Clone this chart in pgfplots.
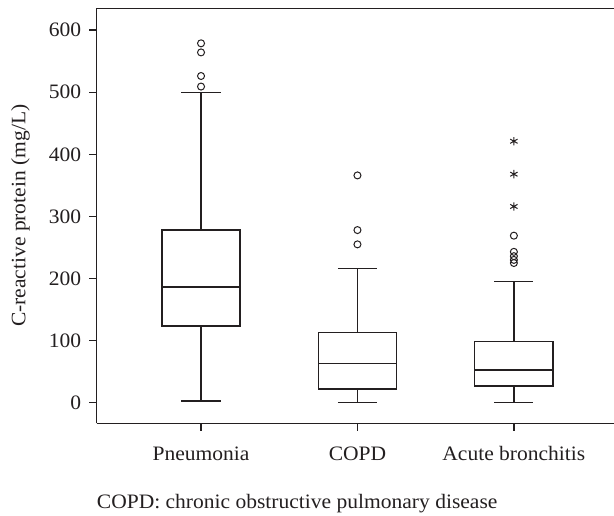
\documentclass[border=0pt]{standalone}
\usepackage{fontspec}
\setmainfont{Liberation Serif}[FakeStretch=1.05]
\usepackage{pgfplots}
\usepgfplotslibrary{statistics}
\pgfplotsset{compat=1.18}
\definecolor{ln}{HTML}{231F20}
\begin{document}
\begin{tikzpicture}
\begin{axis}[
  scale only axis,
  width=517.3pt, height=415pt,
  xmin=0.333, xmax=3.64,
  ymin=-33, ymax=635,
  axis x line*=box, axis y line*=left,
  axis line style={-, line width=1.5pt, draw=ln},
  xtick pos=left, ytick pos=left,
  tick align=outside,
  major tick length=7.5pt,
  tick style={line width=1.3pt, draw=ln},
  xtick={1,2,3},
  xticklabels={Pneumonia,COPD,Acute bronchitis},
  ytick={0,100,200,300,400,500,600},
  /pgf/number format/assume math mode=true,
  ticklabel style={font=\fontsize{20.5}{24}\selectfont, text=ln},
  yticklabel style={xshift=-4.6pt},
  xticklabel style={anchor=base, yshift=-29.7pt},
  ylabel={C-reactive protein (mg/L)},
  every axis y label/.style={at={(axis description cs:-0.1473,0.5)}, rotate=90, anchor=center, font=\fontsize{20.5}{24}\selectfont, text=ln},
  boxplot/draw direction=y,
  every boxplot/.style={draw=ln, line width=1.3pt},
  clip=false,
]
\addplot[draw=ln, line width=1.3pt, mark=o, mark size=3.5pt, mark options={line width=1pt, draw=ln},
  boxplot prepared={draw position=1, median=186.6, upper quartile=278, lower quartile=123.4,
    upper whisker=500, lower whisker=2.7, box extend=0.5, whisker extend=0.25}]
  coordinates {(0,578.6) (0,564) (0,526) (0,509)};
\addplot[draw=ln, line width=1.3pt, mark=o, mark size=3.5pt, mark options={line width=1pt, draw=ln},
  boxplot prepared={draw position=2, median=63.6, upper quartile=113.4, lower quartile=22,
    upper whisker=216, lower whisker=1, box extend=0.5, whisker extend=0.25}]
  coordinates {(0,366) (0,278) (0,255)};
\addplot[draw=ln, line width=1.3pt, mark=o, mark size=3.5pt, mark options={line width=1pt, draw=ln},
  boxplot prepared={draw position=3, median=53, upper quartile=98.9, lower quartile=26.8,
    upper whisker=195.7, lower whisker=1, box extend=0.5, whisker extend=0.25}]
  coordinates {(0,269) (0,243) (0,236) (0,230) (0,225)};
\addplot[only marks, mark=asterisk, mark size=4.2pt, mark options={line width=1pt, draw=ln}]
  coordinates {(3,421) (3,368) (3,316)};
\coordinate (sw) at (rel axis cs:0,0);
\coordinate (ne) at (rel axis cs:1,1);
\end{axis}
\node[anchor=base west, font=\fontsize{20.5}{24}\selectfont, text=ln, inner sep=0pt] at ([yshift=-85.7pt]sw) {COPD: chronic obstructive pulmonary disease};
\pgfresetboundingbox
\path ([xshift=-96.7pt, yshift=-92.7pt]sw) rectangle ([yshift=8.3pt]ne);
\end{tikzpicture}
\end{document}
